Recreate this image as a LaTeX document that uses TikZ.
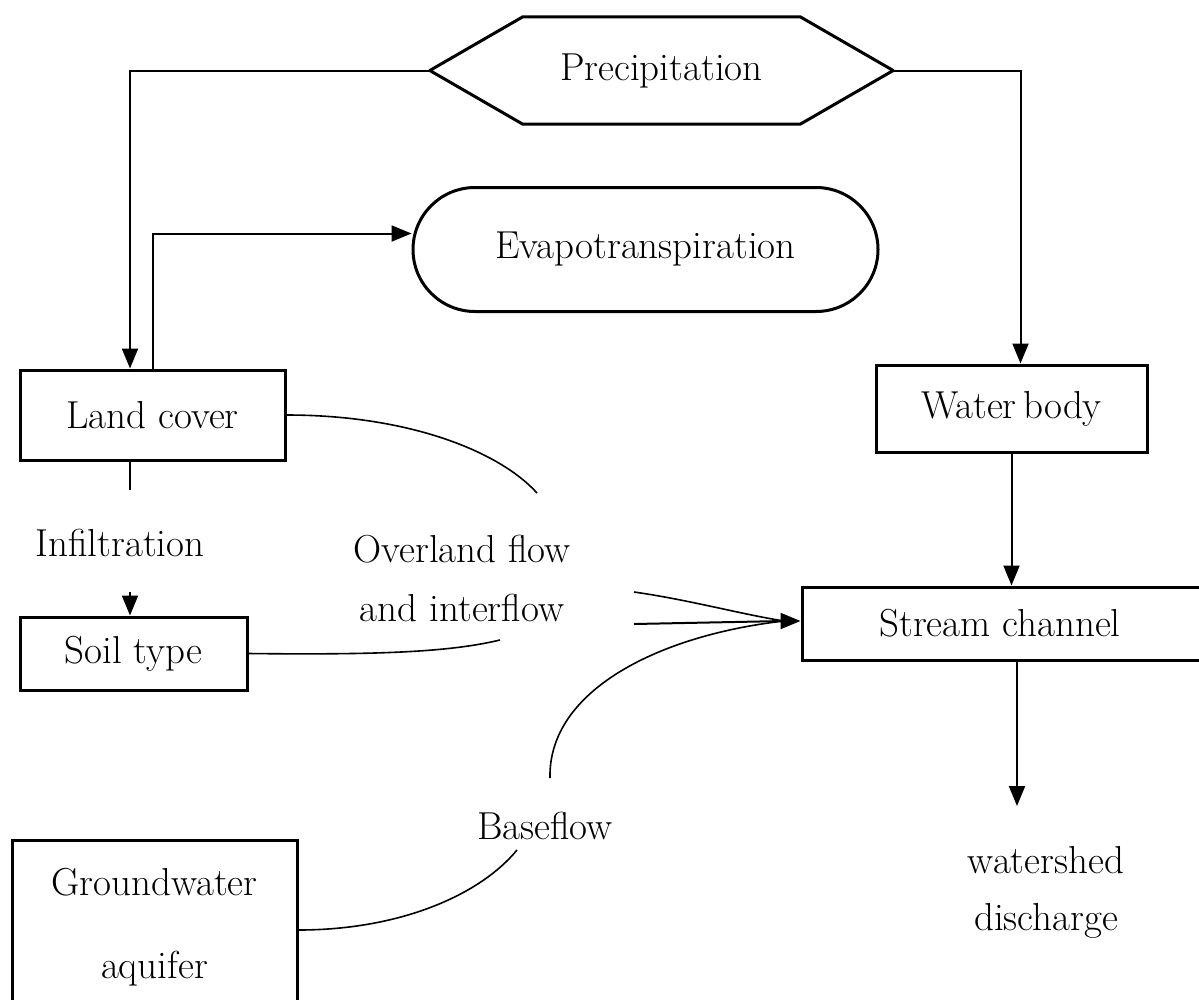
\documentclass[tikz,border=0pt]{standalone}
\usetikzlibrary{arrows.meta,shapes.misc,calc}
\begin{document}
\begin{tikzpicture}[x=1pt,y=-1pt,
  every node/.style={font=\fontsize{39}{45}\selectfont, inner sep=0pt},
  box/.style={draw, line width=3pt, rectangle},
  conn/.style={line width=2pt},
  thin curve/.style={line width=1.6pt},
  arr/.style={conn, -{Triangle[length=20pt,width=16pt]}},
  lbl/.style={align=center}
]
\useasboundingbox (0,0) rectangle (1199,999);

% nodes
\node (prec) [minimum width=463pt, minimum height=107pt] at (661.5,70.5) {Precipitation};
\draw[line width=3pt, line join=round] (prec.west) -- ($(prec.north west)+(93,0)$) -- ($(prec.north east)+(-93,0)$)
  -- (prec.east) -- ($(prec.south east)+(-93,0)$) -- ($(prec.south west)+(93,0)$) -- cycle;

\node (evap) [draw, line width=3pt, rounded rectangle, minimum width=465pt, minimum height=124pt] at (645.5,249.5) {Evapotranspiration};

\node (land) [box, minimum width=265pt, minimum height=90pt] at (152.5,415) {Land cover};
\node (water) [box, minimum width=271pt, minimum height=87pt] at (1011.5,408.5) {Water\,body};
\node (stream) [box, minimum width=416pt, minimum height=73pt] at (1010,623.5) {};
\node (streamtxt) at (1000,623.5) {Stream channel};
\node (soil) [box, minimum width=227pt, minimum height=73pt] at (133.5,653.5) {Soil type};
\node (ground) [box, minimum width=285pt, minimum height=175pt, lbl] at (154.5,927.5) {Groundwater\\[38pt]aquifer};

\node (infil) at (120,543) {Infiltration};
\node (over) [lbl] at (462,578) {Overland flow\\[14pt]and interflow};
\node (base) at (545,826) {Baseflow};
\node (disch) [lbl] at (1046,892) {watershed\\[12pt]discharge};

% helper coordinates
\coordinate (infTop) at (130,490);
\coordinate (infBot) at (130,592);
\coordinate (dout) at (1017,806);
\coordinate (tip) at (784,621);
\coordinate (c1) at (537,493);
\coordinate (c2) at (500,640);
\coordinate (u1) at (634,592);
\coordinate (u2) at (634,624);
\coordinate (b1) at (550,778);
\coordinate (g1) at (517,850);

% connectors
\draw[arr] (prec.west) -| ([xshift=-22.5pt]land.north);
\draw[arr] (land.north) |- ([yshift=16pt]evap.west);
\draw[arr] (prec.east) -| ([xshift=9pt]water.north);
\draw[arr] (water.south) -- (water.south |- stream.north);
\draw[arr] (stream.south -| dout) -- (dout);
\draw[conn] (land.south -| infTop) -- (infTop);
\draw[arr] (infBot) -- (infBot |- soil.north);

% curved flows
\draw[thin curve] (land.east) .. controls (410,415) and (500,452) .. (c1);
\draw[thin curve] (soil.east) .. controls (380,655) and (450,652) .. (c2);
\draw[thin curve] (u1) .. controls (690,600) and (740,614) .. (tip);
\draw[conn] (u2) -- (tip);
\draw[thin curve] (b1) .. controls (548,690) and (660,635) .. (tip);
\draw[thin curve] (ground.east |- 0,930) .. controls (400,930) and (480,895) .. (g1);
\draw[arr] (tip) -- (stream.west |- tip);
\end{tikzpicture}
\end{document}
